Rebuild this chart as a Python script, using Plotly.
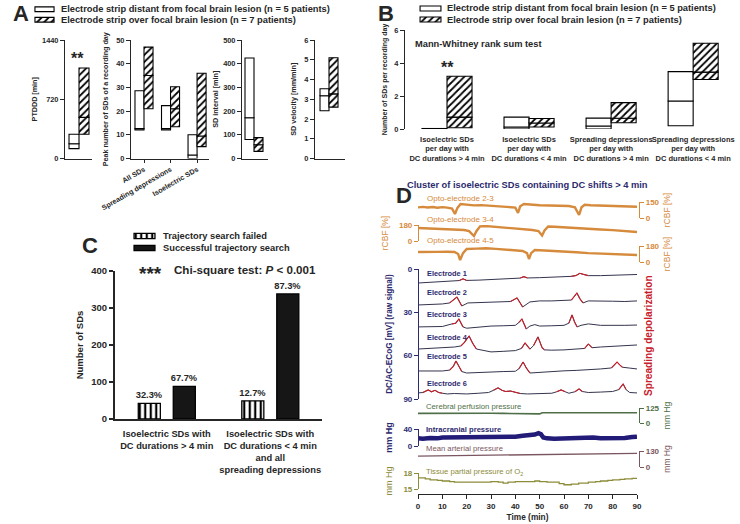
import plotly.graph_objects as go

W, H = 740, 524
FONT = "Liberation Sans"
INK = "#262626"
NAVY = "#2d2a6e"
ORANGE = "#d68a3c"
RED = "#c8202a"
GREEN = "#4e6f47"
MAUVE = "#7b5660"
OLIVE = "#8d8c3b"
TRACE = "#34344e"

# ---------------- data ----------------
# panel A: [25th percentile, median, 75th percentile]
ptddd_distant = [120, 180, 295]
ptddd_lesion = [295, 500, 1100]

peak_cats = ["All SDs", "Spreading depressions", "Isoelectric SDs"]
peak_distant_q1 = [12.0, 12.0, 0.0]
peak_distant_med = [12.6, 12.6, 1.5]
peak_distant_q3 = [28.6, 22.3, 10.0]
peak_lesion_q1 = [21.0, 13.4, 5.0]
peak_lesion_med = [35.0, 21.0, 9.5]
peak_lesion_q3 = [47.0, 30.3, 36.0]

interval_distant = [80, 172, 424]
interval_lesion = [30, 58, 88]

velocity_distant = [2.42, 3.18, 3.53]
velocity_lesion = [2.60, 3.27, 5.10]

# panel B: SDs per recording day
rate_cats = ["Isoelectric SDs<br>per day with<br>DC durations &gt; 4 min",
             "Isoelectric SDs<br>per day with<br>DC durations &lt; 4 min",
             "Spreading depressions<br>per day with<br>DC durations &gt; 4 min",
             "Spreading depressions<br>per day with<br>DC durations &lt; 4 min"]
rate_distant_q1 = [0.0, 0.0, 0.0, 0.2]
rate_distant_med = [0.0, 0.12, 0.18, 1.7]
rate_distant_q3 = [0.03, 0.72, 0.66, 3.48]
rate_lesion_q1 = [0.08, 0.12, 0.38, 3.0]
rate_lesion_med = [0.72, 0.36, 0.65, 3.45]
rate_lesion_q3 = [3.2, 0.64, 1.6, 5.2]

# panel C: trajectory search counts
c_cats = ["Isoelectric SDs with<br>DC durations &gt; 4 min",
          "Isoelectric SDs with<br>DC durations &lt; 4 min<br>and all<br>spreading depressions"]
c_failed = [42, 49]
c_success = [88, 338]

# panel D: recordings (time in min)
cbf23_t = [0, 2, 4, 6, 8, 10, 12, 14, 15.2, 16.2, 17.5, 20, 23, 26, 30, 34, 38, 40, 41.1, 42, 43.5,
           46, 50, 54, 58, 62, 64.5, 66.2, 67.2, 68.5, 71, 75, 79, 83, 87, 90]
cbf23_v = [100, 104, 98, 103, 96, 102, 97, 88, 37, 95, 131, 124, 118, 121, 114, 110, 106, 98, 47, 110, 131,
           124, 120, 117, 115, 112, 100, 28, 100, 124, 120, 117, 118, 112, 110, 106]
cbf34_t = [0, 4, 8, 12, 16, 19, 21, 23, 24, 25.5, 28, 32, 36, 40, 44, 47, 49.5, 51, 52, 53.5, 56, 60,
           65, 70, 75, 80, 85, 90]
cbf34_v = [146, 142, 140, 136, 130, 124, 112, 56, 110, 165, 168, 160, 152, 145, 135, 124, 112, 62, 118,
           163, 160, 152, 146, 138, 130, 122, 110, 101]
cbf45_t = [0, 4, 8, 12, 15, 16.5, 17.3, 18.5, 20, 24, 28, 32, 36, 40, 43, 44.8, 45.6, 46.5, 48, 52, 56,
           60, 65, 70, 75, 80, 85, 90]
cbf45_v = [112, 110, 114, 116, 112, 90, 22, 100, 146, 150, 155, 148, 140, 132, 124, 100, 34, 100, 135,
           130, 126, 120, 110, 100, 96, 90, 84, 79]

e1_t = [0, 5, 10, 15, 17, 18.5, 20, 25, 30, 35, 40, 42, 43.5, 45, 50, 55, 60, 63, 65, 66.5, 68, 70, 75, 80, 85, 90]
e1_v = [9.7, 9.3, 8.8, 8.4, 8.0, 6.8, 7.9, 7.7, 7.3, 7.0, 6.6, 6.3, 5.3, 6.2, 6.0, 5.8, 5.4, 5.1, 4.5, 3.0,
        3.8, 4.6, 4.6, 4.4, 4.0, 3.8]
e1_sd = [(16, 20.5), (41, 45.5), (62.5, 70)]
e2_t = [0, 5, 10, 13, 14.5, 16, 17, 18, 20.5, 25, 30, 35, 38, 39.5, 40.7, 42, 43, 46, 50, 55, 60, 63,
        64.3, 65.3, 66.5, 67.8, 70, 75, 80, 85, 90]
e2_v = [24.9, 24.6, 24.2, 23.5, 21.5, 19.4, 22.5, 25.6, 23.5, 23.3, 23.0, 22.8, 22.5, 21.2, 20.0, 23.5,
        26.3, 22.8, 22.1, 22.1, 22.0, 21.5, 19.0, 16.6, 20.5, 23.5, 22.1, 22.0, 22.3, 22.5, 22.1]
e2_sd = [(13, 18), (38, 43), (63, 67.8)]
e3_t = [0, 5, 10, 14, 15.5, 16.8, 18.5, 20, 25, 30, 35, 40, 41.5, 42.7, 44.5, 46, 48, 50, 55, 60, 62,
        63.3, 64.3, 65.4, 67, 70, 75, 80, 85, 90]
e3_v = [40.1, 40.1, 39.8, 38.0, 37.5, 34.6, 40.1, 41.0, 40.0, 39.5, 39.3, 39.0, 37.0, 34.6, 41.5, 39.5,
        38.5, 39.5, 39.3, 39.0, 37.5, 31.8, 36.5, 40.1, 39.0, 38.0, 39.0, 39.2, 39.0, 38.8]
e3_sd = [(13.5, 19), (40.5, 44.5), (61.5, 65.5)]
e4_t = [0, 5, 10, 15, 17.6, 19, 21, 22.5, 24, 27, 30, 35, 40, 42.5, 44, 46, 47.5, 49.3, 51, 52, 55, 60,
        65, 68.5, 70, 71.5, 75, 80, 85, 90]
e4_v = [55.4, 55.0, 54.5, 54.0, 53.3, 51.0, 46.4, 51.5, 55.4, 56.5, 57.4, 57.0, 56.5, 55.0, 51.2, 55.5,
        53.0, 47.0, 54.5, 56.0, 56.2, 56.0, 55.5, 55.0, 51.9, 54.5, 54.0, 53.5, 53.0, 52.6]
e4_sd = [(16.5, 24), (42, 46), (47, 52), (68, 72)]
e5_t = [0, 5, 10, 13, 14.5, 15.6, 16.8, 18, 20, 25, 30, 35, 40, 41.5, 43.2, 44.5, 46, 50, 55, 60, 65,
        70, 75, 79.5, 81, 81.8, 83, 84, 87, 90]
e5_v = [70.6, 70.8, 70.6, 70.0, 67.5, 63.7, 67.5, 71.0, 72.0, 71.5, 71.2, 71.0, 70.8, 69.0, 64.4, 68.5,
        72.0, 71.5, 71.0, 70.5, 70.2, 69.8, 69.2, 68.5, 66.0, 64.4, 66.5, 68.0, 68.6, 69.2]
e5_sd = [(13, 18.5), (41, 46), (79, 84.5)]
e6_t = [0, 2, 4.2, 5.5, 7, 8.5, 10, 12, 15, 20, 25, 29, 31, 32.9, 34.5, 36, 38, 40, 42, 45, 50, 55, 57,
        58.8, 60.5, 62, 64.5, 66.2, 67.5, 70, 75, 80, 82.5, 84.3, 85.5, 87, 90]
e6_v = [85.8, 85.5, 83.7, 85.0, 84.0, 85.5, 86.0, 86.5, 86.2, 86.5, 86.0, 85.5, 84.0, 82.3, 84.0, 84.8,
        84.5, 85.5, 86.2, 86.5, 86.2, 86.0, 85.0, 83.7, 85.0, 86.0, 85.0, 83.0, 84.8, 85.5, 85.2, 84.8,
        83.5, 79.6, 83.5, 85.5, 85.8]
e6_sd = [(1.5, 11), (30, 42), (56, 61.5), (64, 68), (82, 86)]

cpp_t = [0, 5, 10, 15, 20, 25, 30, 35, 40, 45, 49, 50, 51, 55, 60, 65, 70, 75, 80, 85, 90]
cpp_v = [80, 81, 79, 80, 79, 80, 81, 80, 79, 80, 80, 76, 86, 85, 86, 84, 85, 86, 85, 86, 85]
icp_t = [0, 2, 5, 8, 10, 15, 20, 25, 30, 35, 40, 43, 46, 48, 49.5, 50.5, 51.5, 53, 56, 60, 65, 68, 70,
         72, 75, 80, 85, 88, 90]
icp_v = [18, 17, 19, 18, 20, 20, 21, 20, 21, 22, 22, 24, 25, 27, 30, 28, 20, 18, 17, 18, 19, 21, 22,
         20, 18, 18, 19, 21, 22]
map_t = [0, 10, 20, 30, 40, 50, 60, 70, 80, 90]
map_v = [89, 92, 95, 97, 99, 102, 104, 106, 108, 110]
pto2_t = [0, 3, 5, 8, 10, 13, 15, 20, 25, 30, 33, 35, 37, 40, 45, 48, 50, 53, 55, 58, 60, 63, 66, 70,
          73, 75, 78, 80, 83, 85, 88, 90]
pto2_v = [17.1, 16.9, 16.7, 16.6, 16.5, 16.4, 16.3, 16.3, 16.3, 16.4, 16.3, 16.1, 16.3, 16.4, 16.4,
          16.5, 16.4, 16.3, 16.3, 16.0, 15.8, 15.9, 16.1, 16.3, 16.4, 16.5, 16.6, 16.7, 16.8, 16.9,
          17.0, 17.0]


# ---------------- helpers ----------------
def X(p):
    return p / W


def Y(p):
    return 1 - p / H


def xdom(a, b):
    return [X(a), X(b)]


def ydom(top, bottom):
    return [Y(bottom), Y(top)]


def bfont(size, color=INK, weight="bold"):
    return dict(family=FONT, size=size, color=color, weight=weight)


HATCH = dict(shape="/", size=5, solidity=0.35, fgcolor="black", bgcolor="white")
STRIPE = dict(shape="|", size=5.5, solidity=0.4, fgcolor="black", bgcolor="white")
OPEN = dict(shape="")

fig = go.Figure()
lay = dict(width=W, height=H, margin=dict(l=0, r=0, t=0, b=0), template="none",
           paper_bgcolor="white", plot_bgcolor="rgba(0,0,0,0)", showlegend=False,
           barmode="overlay", font=dict(family=FONT, color=INK))
notes = []


def note(text, x, y, size=9.3, color=INK, weight="bold", xanchor="left", angle=0):
    notes.append(dict(text=text, x=X(x), y=Y(y), xref="paper", yref="paper", showarrow=False,
                      xanchor=xanchor, yanchor="middle", textangle=angle,
                      font=bfont(size, color, weight)))


def add_box(xa, ya, cats, q1, med, q3, pattern, offset, width):
    # a box = two stacked bars (q1->median, median->q3), so the median is the shared edge
    parts = [(q1, [m - a for a, m in zip(q1, med)]), (med, [b - m for m, b in zip(med, q3)])]
    for base, height in parts:
        fig.add_trace(go.Bar(x=cats, y=height, base=base, xaxis=xa, yaxis=ya,
                             offset=offset, width=width, hoverinfo="skip",
                             marker=dict(color="white", line=dict(color="black", width=1.1),
                                         pattern=pattern)))


def single(vals):
    return [[v] for v in vals]


def y_axis(top, bottom, rng, dtick, title, standoff, size=7.4, tsize=7.2, **kw):
    d = dict(domain=ydom(top, bottom), range=rng, dtick=dtick, tick0=0, showline=True,
             linecolor=INK, linewidth=1.1, ticks="outside", ticklen=4, tickwidth=1.1,
             tickcolor=INK, tickfont=bfont(size), showgrid=False, zeroline=False,
             title=dict(text=title, font=bfont(tsize), standoff=standoff))
    d.update(kw)
    return d


def x_axis(left, right, rng, anchor, **kw):
    d = dict(domain=xdom(left, right), range=rng, type="category", anchor=anchor,
             showline=True, linecolor=INK, linewidth=1.1, ticks="", showticklabels=False,
             showgrid=False, zeroline=False)
    d.update(kw)
    return d


# ---------------- panel A ----------------
add_box("x", "y", ["PTDDD"], *single(ptddd_distant), OPEN, -0.333, 0.333)
add_box("x", "y", ["PTDDD"], *single(ptddd_lesion), HATCH, 0, 0.333)
add_box("x2", "y2", peak_cats, peak_distant_q1, peak_distant_med, peak_distant_q3, OPEN, -0.34, 0.34)
add_box("x2", "y2", peak_cats, peak_lesion_q1, peak_lesion_med, peak_lesion_q3, HATCH, 0, 0.34)
add_box("x3", "y3", ["interval"], *single(interval_distant), OPEN, -0.3, 0.3)
add_box("x3", "y3", ["interval"], *single(interval_lesion), HATCH, 0, 0.3)
add_box("x4", "y4", ["velocity"], *single(velocity_distant), OPEN, -0.3, 0.3)
add_box("x4", "y4", ["velocity"], *single(velocity_lesion), HATCH, 0, 0.3)

lay["xaxis"] = x_axis(65, 92, [-0.467, 0.433], "y")
lay["yaxis"] = y_axis(40, 158.5, [0, 1440], 720, "PTDDD [min]", 3, anchor="x")
lay["xaxis2"] = x_axis(131, 209, [-0.49, 2.45], "y2", showticklabels=True, ticks="outside",
                       ticklen=3, tickcolor=INK, tickangle=-30, tickfont=bfont(7.2))
lay["yaxis2"] = y_axis(40, 158.5, [0, 50], 10, "Peak number of SDs of a recording day", 6, anchor="x2")
lay["xaxis3"] = x_axis(242, 268, [-0.4, 0.467], "y3")
lay["yaxis3"] = y_axis(40, 158.5, [0, 500], 100, "SD interval [min]", 3, anchor="x3")
lay["xaxis4"] = x_axis(315, 345, [-0.467, 0.533], "y4")
lay["yaxis4"] = y_axis(40, 158.5, [0, 6], 1, "SD velocity [mm/min]", 6, anchor="x4")

note("A", 11, 14, size=22)
note("**", 77, 58, size=16, xanchor="center")

# ---------------- panel B ----------------
add_box("x5", "y5", rate_cats, rate_distant_q1, rate_distant_med, rate_distant_q3, OPEN, -0.305, 0.305)
add_box("x5", "y5", rate_cats, rate_lesion_q1, rate_lesion_med, rate_lesion_q3, HATCH, 0, 0.305)
lay["xaxis5"] = x_axis(405, 735, [-0.512, 3.51], "y5", showline=False, showticklabels=True,
                       tickangle=0, tickfont=bfont(7.5), ticklabelstandoff=4)
lay["yaxis5"] = y_axis(30, 129, [0, 6], 2, "Number of SDs per recording day", 5, tsize=7,
                       anchor="x5")

note("B", 376, 14, size=22)
note("**", 447, 67, size=16, xanchor="center")
note("Mann-Whitney rank sum test", 413, 44)

# legends for A and B (swatches on small hidden axes)
for k, (left, right, top, bottom, tx) in enumerate([(34, 55, 4, 25, 59), (419, 442, 3, 25, 445)]):
    xa, ya = f"x{7 + k}", f"y{7 + k}"
    for i, pattern in enumerate([OPEN, HATCH]):
        fig.add_trace(go.Bar(x=[1], y=[i], orientation="h", width=0.45, xaxis=xa, yaxis=ya,
                             hoverinfo="skip",
                             marker=dict(color="white", line=dict(color="black", width=1.1),
                                         pattern=pattern)))
    lay[f"xaxis{7 + k}"] = dict(domain=xdom(left, right), range=[-0.05, 1.05], visible=False,
                                anchor=ya)
    lay[f"yaxis{7 + k}"] = dict(domain=ydom(top, bottom), range=[1.5, -0.5], visible=False,
                                anchor=xa)
    step = (bottom - top) / 2
    note("Electrode strip distant from focal brain lesion (n = 5 patients)", tx, top + step / 2)
    note("Electrode strip over focal brain lesion (n = 7 patients)", tx, top + 1.5 * step)

# ---------------- panel C ----------------
failed_pct = [f"{100 * f / (f + s):.1f}%" for f, s in zip(c_failed, c_success)]
success_pct = [f"{100 * s / (f + s):.1f}%" for f, s in zip(c_failed, c_success)]
fig.add_trace(go.Bar(x=c_cats, y=c_failed, xaxis="x6", yaxis="y6", offset=-0.275, width=0.213,
                     marker=dict(color="white", line=dict(color="black", width=1.3), pattern=STRIPE),
                     text=failed_pct, textposition="outside", constraintext="none",
                     cliponaxis=False, textfont=bfont(9.3), hoverinfo="skip"))
fig.add_trace(go.Bar(x=c_cats, y=c_success, xaxis="x6", yaxis="y6", offset=0.063, width=0.213,
                     marker=dict(color="#161616", line=dict(color="black", width=1.3)),
                     text=success_pct, textposition="outside", constraintext="none",
                     cliponaxis=False, textfont=bfont(9.3), hoverinfo="skip"))
lay["xaxis6"] = x_axis(115, 322, [-0.5, 1.5], "y6", linewidth=2, showticklabels=True,
                       tickangle=0, tickfont=bfont(9.3), ticklabelstandoff=5)
lay["yaxis6"] = y_axis(271, 419, [0, 400], 100, "Number of SDs", 6, size=9.5, tsize=9.5,
                       anchor="x6", linewidth=2, tickwidth=1.5)

# C legend swatches
fig.add_trace(go.Bar(x=[1], y=[0], orientation="h", width=0.45, xaxis="x9", yaxis="y9",
                     hoverinfo="skip",
                     marker=dict(color="white", line=dict(color="black", width=1.3), pattern=STRIPE)))
fig.add_trace(go.Bar(x=[1], y=[1], orientation="h", width=0.45, xaxis="x9", yaxis="y9",
                     hoverinfo="skip", marker=dict(color="#161616", line=dict(color="black", width=1.3))))
lay["xaxis9"] = dict(domain=xdom(133, 156), range=[-0.05, 1.05], visible=False, anchor="y9")
lay["yaxis9"] = dict(domain=ydom(230, 254), range=[1.5, -0.5], visible=False, anchor="x9")
note("Trajectory search failed", 161, 236)
note("Successful trajectory search", 161, 248)

note("C", 80, 246, size=22)
note("***", 137, 273, size=19)
note("Chi-square test: <i>P</i> &lt; 0.001", 172, 269, size=11.6)

# ---------------- panel D ----------------
def d_axis(top, bottom, rng, ticks, side, color, title, tweight="normal", tsize=8.5, standoff=5):
    return dict(domain=ydom(top, bottom), range=rng, tickvals=ticks, anchor="free",
                position=X(418) if side == "left" else X(639), side=side, showline=True,
                linecolor=color, linewidth=1.2, ticks="outside", ticklen=4, tickwidth=1.2,
                tickcolor=color, tickfont=bfont(8, color), showgrid=False, zeroline=False,
                title=dict(text=title, font=bfont(tsize, color, tweight), standoff=standoff))


def line(t, v, ya, color, width, shape="linear"):
    fig.add_trace(go.Scatter(x=t, y=v, xaxis="x10", yaxis=ya, mode="lines", hoverinfo="skip",
                             line=dict(color=color, width=width, shape=shape)))


line(cbf23_t, cbf23_v, "y10", ORANGE, 2.4)
line(cbf34_t, cbf34_v, "y11", ORANGE, 2.4)
line(cbf45_t, cbf45_v, "y12", ORANGE, 2.4)

electrodes = [(e1_t, e1_v, e1_sd), (e2_t, e2_v, e2_sd), (e3_t, e3_v, e3_sd),
              (e4_t, e4_v, e4_sd), (e5_t, e5_v, e5_sd), (e6_t, e6_v, e6_sd)]
for t, v, windows in electrodes:
    line(t, v, "y13", TRACE, 1)
    rt, rv = [], []
    for a, b in windows:
        for tt, vv in zip(t, v):
            if a <= tt <= b:
                rt.append(tt)
                rv.append(vv)
        rt.append(None)
        rv.append(None)
    line(rt, rv, "y13", RED, 1.1)

line(cpp_t, cpp_v, "y14", GREEN, 1.6)
line(icp_t, icp_v, "y15", "#221c78", 4.5)
line(map_t, map_v, "y16", MAUVE, 1.3)
line(pto2_t, pto2_v, "y17", OLIVE, 1.3, shape="hv")

lay["xaxis10"] = dict(domain=xdom(418, 637), range=[0, 90], dtick=10, tick0=0, anchor="free",
                      position=Y(494), showline=True, linecolor=INK, linewidth=1.2,
                      ticks="outside", ticklen=4, tickcolor=INK, tickfont=bfont(8),
                      showgrid=False, zeroline=False,
                      title=dict(text="Time (min)", font=bfont(8.3), standoff=4))
lay["yaxis10"] = d_axis(202, 218, [0, 150], [0, 150], "right", ORANGE, "rCBF [%]")
lay["yaxis11"] = d_axis(225, 241, [0, 180], [0, 180], "left", ORANGE, "rCBF [%]", standoff=7)
lay["yaxis12"] = d_axis(246, 262, [0, 180], [0, 180], "right", ORANGE, "rCBF [%]")
lay["yaxis13"] = d_axis(269, 399, [90, 0], [0, 30, 60, 90], "left", NAVY,
                        "DC/AC-ECoG [mV] (raw signal)", tweight="bold", tsize=8.2, standoff=8)
lay["yaxis14"] = d_axis(408, 423, [0, 125], [0, 125], "right", GREEN, "mm Hg")
lay["yaxis15"] = d_axis(429, 446, [0, 40], [0, 40], "left", NAVY, "mm Hg", tweight="bold",
                        tsize=9, standoff=8)
lay["yaxis16"] = d_axis(451, 467, [0, 130], [0, 130], "right", MAUVE, "mm Hg")
lay["yaxis17"] = d_axis(473, 489, [15, 18], [15, 18], "left", OLIVE, "mm Hg", tsize=9, standoff=8)

note("D", 394, 195, size=22)
note("Cluster of isoelectric SDs containing DC shifts &gt; 4 min", 527, 185, color=NAVY,
     xanchor="center")
for label, y in [("Opto-electrode 2-3", 198), ("Opto-electrode 3-4", 220), ("Opto-electrode 4-5", 241)]:
    note(label, 425, y, size=8, color=ORANGE, weight="normal")
for i, y in enumerate([273, 292, 314, 337, 356, 383]):
    note(f"Electrode {i + 1}", 425, y, size=7.4, color=NAVY)
note("Spreading depolarization", 648, 336, size=10.1, color=RED, xanchor="center", angle=-90)
note("Cerebral perfusion pressure", 424, 406, size=7.7, color=GREEN, weight="normal")
note("Intracranial pressure", 424, 429, size=7.6, color=NAVY)
note("Mean arterial pressure", 424, 448, size=7.7, color=MAUVE, weight="normal")
note("Tissue partial pressure of O<sub>2</sub>", 424, 472, size=7.7, color=OLIVE, weight="normal")

lay["annotations"] = notes
fig.update_layout(**lay)
# the page body has a default 8px margin; drop it so the figure fills the window
fig.write_html("out.html", config={"displayModeBar": False},
               post_script="document.body.style.margin='0';document.body.style.overflow='hidden';")
